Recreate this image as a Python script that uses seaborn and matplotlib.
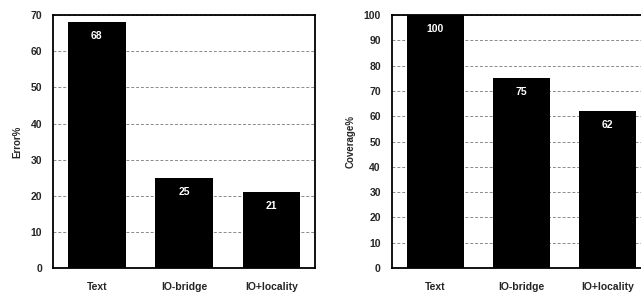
import pandas as pd
import numpy as np
import matplotlib
matplotlib.use("Agg")
import matplotlib.pyplot as plt
import seaborn as sns

# Данные
categories = ["Text", "IO-bridge", "IO+locality"]
error_pct = [68, 25, 21]
coverage_pct = [100, 75, 62]

sns.set_style("white")
plt.rcParams["font.family"] = ["Liberation Sans", "DejaVu Sans"]
plt.rcParams["font.weight"] = "bold"

fig = plt.figure(figsize=(6.41, 2.92), dpi=100)
ax1 = fig.add_axes([0.0827, 0.082, 0.409, 0.866])
ax2 = fig.add_axes([0.6115, 0.082, 0.404, 0.866])


def draw(ax, values, ylabel, ymax):
    df = pd.DataFrame({"cat": categories, "val": values})
    sns.barplot(data=df, x="cat", y="val", color="black", width=0.66,
                saturation=1, edgecolor="black", linewidth=0, ax=ax, zorder=3)
    ax.set_xlim(-0.5, 2.5)
    ax.set_ylim(0, ymax)
    ax.set_yticks(np.arange(0, ymax + 1, 10))
    ax.yaxis.grid(True, linestyle=(0, (3, 2)), color="#8a8a8a", linewidth=0.7, zorder=0)
    ax.set_axisbelow(True)
    ax.set_xlabel("")
    ax.set_ylabel(ylabel, fontsize=7, fontweight="bold", labelpad=6)
    ax.tick_params(axis="x", length=0, labelsize=7.5, pad=10)
    ax.tick_params(axis="y", length=2, labelsize=7.5, pad=6)
    for lbl in ax.get_xticklabels() + ax.get_yticklabels():
        lbl.set_fontweight("bold")
    for s in ax.spines.values():
        s.set_color("black")
        s.set_linewidth(1.3)
    for p, v in zip(ax.patches, values):
        ax.text(p.get_x() + p.get_width() / 2, v - ymax * 0.055, str(v),
                ha="center", va="center", color="white", fontsize=7.5)


draw(ax1, error_pct, "Error%", 70)
draw(ax2, coverage_pct, "Coverage%", 100)

fig.savefig("out.png", dpi=100)
